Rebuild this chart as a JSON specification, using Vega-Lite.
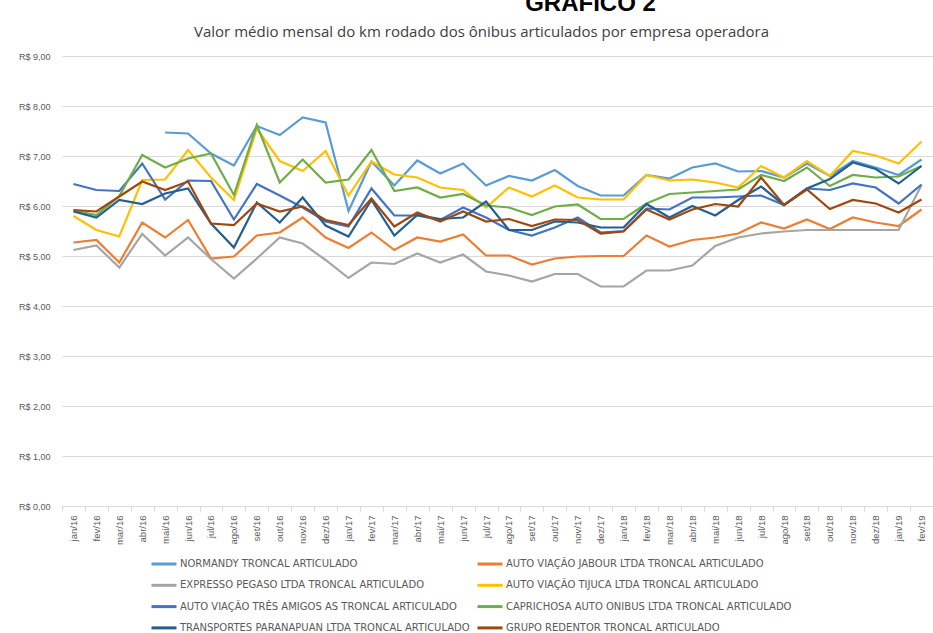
{
  "$schema": "https://vega.github.io/schema/vega-lite/v6.json",
  "width": 871,
  "height": 450,
  "autosize": "none",
  "padding": {"left": 62, "top": 56, "right": 0, "bottom": 127},
  "background": "white",
  "title": {"text": "GRÁFICO 2", "anchor": "middle", "dx": 93, "fontSize": 24, "fontWeight": "bold", "font": "Liberation Sans", "color": "#000000", "offset": 8},
  "datasets": {
    "nomes": [
      {"k": "N", "empresa": "NORMANDY TRONCAL ARTICULADO"},
      {"k": "J", "empresa": "AUTO VIAÇÃO JABOUR LTDA TRONCAL ARTICULADO"},
      {"k": "P", "empresa": "EXPRESSO PEGASO LTDA TRONCAL ARTICULADO"},
      {"k": "T", "empresa": "AUTO VIAÇÃO TIJUCA LTDA TRONCAL ARTICULADO"},
      {"k": "A", "empresa": "AUTO VIAÇÃO TRÊS AMIGOS AS TRONCAL ARTICULADO"},
      {"k": "C", "empresa": "CAPRICHOSA AUTO ONIBUS LTDA TRONCAL ARTICULADO"},
      {"k": "TP", "empresa": "TRANSPORTES PARANAPUAN LTDA TRONCAL ARTICULADO"},
      {"k": "G", "empresa": "GRUPO REDENTOR TRONCAL ARTICULADO"}
    ]
  },
  "data": {
    "values": [
      {"m": "jan/16", "N": null, "J": 5.27, "P": 5.12, "T": 5.80, "A": 6.44, "C": 5.91, "TP": 5.89, "G": 5.92},
      {"m": "fev/16", "N": null, "J": 5.32, "P": 5.21, "T": 5.52, "A": 6.32, "C": 5.82, "TP": 5.77, "G": 5.89},
      {"m": "mar/16", "N": null, "J": 4.87, "P": 4.77, "T": 5.39, "A": 6.30, "C": 6.20, "TP": 6.12, "G": 6.19},
      {"m": "abr/16", "N": null, "J": 5.67, "P": 5.44, "T": 6.52, "A": 6.85, "C": 7.02, "TP": 6.04, "G": 6.49},
      {"m": "mai/16", "N": 7.47, "J": 5.37, "P": 5.01, "T": 6.53, "A": 6.13, "C": 6.77, "TP": 6.25, "G": 6.32},
      {"m": "jun/16", "N": 7.45, "J": 5.72, "P": 5.37, "T": 7.12, "A": 6.51, "C": 6.95, "TP": 6.35, "G": 6.49},
      {"m": "jul/16", "N": 7.05, "J": 4.95, "P": 4.94, "T": 6.57, "A": 6.50, "C": 7.05, "TP": 5.65, "G": 5.65},
      {"m": "ago/16", "N": 6.81, "J": 4.99, "P": 4.55, "T": 6.12, "A": 5.73, "C": 6.22, "TP": 5.17, "G": 5.62},
      {"m": "set/16", "N": 7.60, "J": 5.41, "P": 4.95, "T": 7.55, "A": 6.44, "C": 7.62, "TP": 6.07, "G": 6.05},
      {"m": "out/16", "N": 7.42, "J": 5.47, "P": 5.37, "T": 6.90, "A": 6.21, "C": 6.47, "TP": 5.67, "G": 5.89},
      {"m": "nov/16", "N": 7.77, "J": 5.77, "P": 5.25, "T": 6.70, "A": 5.97, "C": 6.93, "TP": 6.17, "G": 5.99},
      {"m": "dez/16", "N": 7.67, "J": 5.37, "P": 4.92, "T": 7.10, "A": 5.69, "C": 6.47, "TP": 5.61, "G": 5.72},
      {"m": "jan/17", "N": 5.90, "J": 5.16, "P": 4.56, "T": 6.21, "A": 5.59, "C": 6.53, "TP": 5.39, "G": 5.62},
      {"m": "fev/17", "N": 6.89, "J": 5.47, "P": 4.87, "T": 6.89, "A": 6.35, "C": 7.12, "TP": 6.12, "G": 6.15},
      {"m": "mar/17", "N": 6.41, "J": 5.12, "P": 4.84, "T": 6.63, "A": 5.81, "C": 6.30, "TP": 5.41, "G": 5.59},
      {"m": "abr/17", "N": 6.91, "J": 5.37, "P": 5.05, "T": 6.57, "A": 5.81, "C": 6.37, "TP": 5.82, "G": 5.87},
      {"m": "mai/17", "N": 6.65, "J": 5.29, "P": 4.87, "T": 6.37, "A": 5.72, "C": 6.17, "TP": 5.74, "G": 5.69},
      {"m": "jun/17", "N": 6.85, "J": 5.43, "P": 5.03, "T": 6.32, "A": 5.97, "C": 6.24, "TP": 5.77, "G": 5.89},
      {"m": "jul/17", "N": 6.41, "J": 5.01, "P": 4.69, "T": 5.97, "A": 5.77, "C": 6.01, "TP": 6.09, "G": 5.69},
      {"m": "ago/17", "N": 6.60, "J": 5.01, "P": 4.61, "T": 6.37, "A": 5.52, "C": 5.97, "TP": 5.52, "G": 5.74},
      {"m": "set/17", "N": 6.51, "J": 4.83, "P": 4.49, "T": 6.19, "A": 5.41, "C": 5.82, "TP": 5.52, "G": 5.60},
      {"m": "out/17", "N": 6.72, "J": 4.95, "P": 4.64, "T": 6.41, "A": 5.57, "C": 5.99, "TP": 5.69, "G": 5.73},
      {"m": "nov/17", "N": 6.40, "J": 4.99, "P": 4.64, "T": 6.17, "A": 5.77, "C": 6.03, "TP": 5.67, "G": 5.72},
      {"m": "dez/17", "N": 6.21, "J": 5.00, "P": 4.39, "T": 6.13, "A": 5.47, "C": 5.74, "TP": 5.57, "G": 5.45},
      {"m": "jan/18", "N": 6.21, "J": 5.00, "P": 4.39, "T": 6.13, "A": 5.50, "C": 5.74, "TP": 5.57, "G": 5.49},
      {"m": "fev/18", "N": 6.62, "J": 5.41, "P": 4.71, "T": 6.62, "A": 5.95, "C": 6.05, "TP": 6.04, "G": 5.93},
      {"m": "mar/18", "N": 6.55, "J": 5.19, "P": 4.71, "T": 6.51, "A": 5.93, "C": 6.24, "TP": 5.77, "G": 5.73},
      {"m": "abr/18", "N": 6.77, "J": 5.32, "P": 4.81, "T": 6.53, "A": 6.17, "C": 6.27, "TP": 6.00, "G": 5.93},
      {"m": "mai/18", "N": 6.85, "J": 5.37, "P": 5.20, "T": 6.47, "A": 6.17, "C": 6.30, "TP": 5.81, "G": 6.04},
      {"m": "jun/18", "N": 6.69, "J": 5.45, "P": 5.37, "T": 6.37, "A": 6.19, "C": 6.33, "TP": 6.12, "G": 5.99},
      {"m": "jul/18", "N": 6.70, "J": 5.67, "P": 5.45, "T": 6.80, "A": 6.21, "C": 6.62, "TP": 6.39, "G": 6.57},
      {"m": "ago/18", "N": 6.57, "J": 5.55, "P": 5.49, "T": 6.57, "A": 6.02, "C": 6.50, "TP": 6.02, "G": 6.02},
      {"m": "set/18", "N": 6.85, "J": 5.73, "P": 5.52, "T": 6.90, "A": 6.35, "C": 6.77, "TP": 6.35, "G": 6.33},
      {"m": "out/18", "N": 6.60, "J": 5.54, "P": 5.52, "T": 6.60, "A": 6.32, "C": 6.40, "TP": 6.54, "G": 5.94},
      {"m": "nov/18", "N": 6.90, "J": 5.77, "P": 5.52, "T": 7.10, "A": 6.45, "C": 6.62, "TP": 6.87, "G": 6.12},
      {"m": "dez/18", "N": 6.77, "J": 5.67, "P": 5.52, "T": 7.01, "A": 6.37, "C": 6.57, "TP": 6.74, "G": 6.05},
      {"m": "jan/19", "N": 6.62, "J": 5.60, "P": 5.52, "T": 6.85, "A": 6.05, "C": 6.59, "TP": 6.45, "G": 5.87},
      {"m": "fev/19", "N": 6.93, "J": 5.93, "P": 6.42, "T": 7.29, "A": 6.43, "C": 6.80, "TP": 6.80, "G": 6.13}
    ]
  },
  "transform": [
    {"fold": ["N", "J", "P", "T", "A", "C", "TP", "G"], "as": ["k", "v"]},
    {"lookup": "k", "from": {"data": {"name": "nomes"}, "key": "k", "fields": ["empresa"]}}
  ],
  "encoding": {
    "y": {
      "field": "v", "type": "quantitative",
      "scale": {"domain": [0, 9], "nice": false, "zero": true},
      "axis": {
        "values": [0, 1, 2, 3, 4, 5, 6, 7, 8, 9],
        "title": null, "domain": false, "ticks": false,
        "labelExpr": "'R$ ' + replace(format(datum.value, '.2f'), '.', ',')",
        "labelFontSize": 9, "labelColor": "#595959", "labelFont": "Liberation Sans", "labelPadding": 12,
        "gridColor": "#D9D9D9", "gridWidth": 1
      }
    },
    "color": {
      "field": "empresa", "type": "nominal",
      "scale": {
        "domain": [
          "NORMANDY TRONCAL ARTICULADO",
          "EXPRESSO PEGASO LTDA TRONCAL ARTICULADO",
          "AUTO VIAÇÃO TRÊS AMIGOS AS TRONCAL ARTICULADO",
          "TRANSPORTES PARANAPUAN LTDA TRONCAL ARTICULADO",
          "AUTO VIAÇÃO JABOUR LTDA TRONCAL ARTICULADO",
          "AUTO VIAÇÃO TIJUCA LTDA TRONCAL ARTICULADO",
          "CAPRICHOSA AUTO ONIBUS LTDA TRONCAL ARTICULADO",
          "GRUPO REDENTOR TRONCAL ARTICULADO"
        ],
        "range": ["#5B9BD5", "#A5A5A5", "#4472C4", "#255E91", "#ED7D31", "#FFC000", "#70AD47", "#9E480E"]
      },
      "legend": {
        "orient": "none", "legendX": 88, "legendY": 494,
        "columns": 2, "title": null, "gridAlign": "each",
        "symbolType": "stroke", "symbolStrokeWidth": 3, "symbolSize": 625,
        "labelFontSize": 10, "labelColor": "#595959", "labelFont": "DejaVu Sans", "labelLimit": 400,
        "labelOffset": 2, "columnPadding": 1, "rowPadding": 1.3
      }
    }
  },
  "layer": [
    {
      "mark": {"type": "line", "strokeWidth": 2.2},
      "encoding": {
        "x": {
          "field": "m", "type": "ordinal", "sort": null,
          "scale": {"type": "band", "paddingInner": 0, "paddingOuter": 0},
          "axis": {
            "orient": "bottom", "title": null, "labelAngle": -90,
            "labelFontSize": 9.5, "labelColor": "#595959", "labelFont": "Liberation Sans",
            "tickBand": "extent", "tickColor": "#D9D9D9", "tickSize": 5,
            "domainColor": "#D9D9D9", "labelPadding": 4, "grid": false
          }
        }
      }
    },
    {
      "mark": {"type": "line", "opacity": 0},
      "encoding": {
        "x": {
          "field": "m", "type": "ordinal", "sort": null,
          "scale": {"type": "band", "paddingInner": 0, "paddingOuter": 0},
          "axis": {
            "orient": "top", "labels": false, "ticks": false, "domain": false, "grid": false,
            "title": "Valor médio mensal do km rodado dos ônibus articulados por empresa operadora",
            "titleFontSize": 15, "titleFont": "Open Sans", "titleFontWeight": "normal",
            "titleColor": "#404040", "titlePadding": 17, "titleX": 419
          }
        }
      }
    }
  ],
  "resolve": {"axis": {"x": "independent"}, "scale": {"x": "shared"}},
  "config": {"view": {"stroke": null}, "font": "Liberation Sans"}
}
